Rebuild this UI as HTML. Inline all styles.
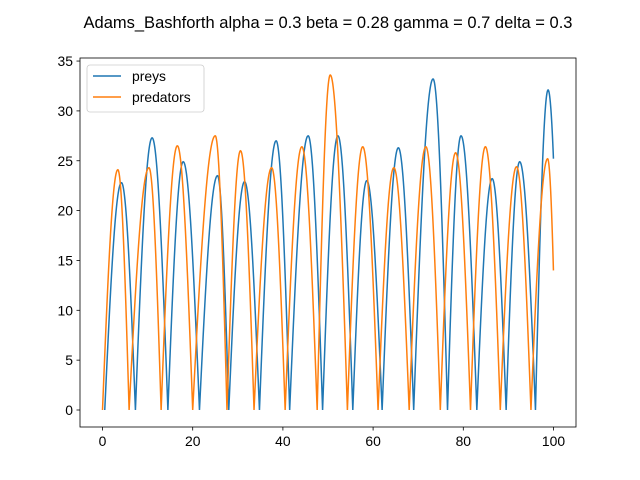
<!DOCTYPE html>
<html><head><meta charset="utf-8"><style>
body{margin:0;background:#fff;}
svg{display:block;font-family:"Liberation Sans","DejaVu Sans",sans-serif;}
</style></head><body>
<svg id="c" width="640" height="480">
<text x="328" y="28" text-anchor="middle" font-size="16.5">Adams_Bashforth alpha = 0.3 beta = 0.28 gamma = 0.7 delta = 0.3</text>
<defs><clipPath id="clip"><rect x="80" y="58" width="496" height="369"/></clipPath></defs>
<g id="series" clip-path="url(#clip)"></g>
<g id="axes"></g>
<rect x="80" y="58" width="496" height="369" fill="none" stroke="#000" stroke-width="0.8"/>
<g>
<rect x="87" y="65" width="117" height="47" rx="3" fill="#fff" fill-opacity="0.8" stroke="#ccc" stroke-width="0.8"/>
<line x1="93" y1="76" x2="121" y2="76" stroke="#1f77b4" stroke-width="1.5"/>
<text x="132" y="81" font-size="13.9">preys</text>
<line x1="93" y1="97" x2="121" y2="97" stroke="#ff7f0e" stroke-width="1.5"/>
<text x="132" y="102" font-size="13.9">predators</text>
</g>
</svg>
<script>
const xTicks=[0,20,40,60,80,100];
const yTicks=[0,5,10,15,20,25,30,35];
const preyZeros=[0.5,7.3,14.5,21.5,28,34.8,41.5,48.8,55.5,62,69,76.5,83,89.5,96,101.6];
const preyPeakT=[4.2,11,17.9,25.5,31.5,38.5,45.6,52.2,58.6,65.6,73.3,79.5,86.4,92.5,98.8];
const preyPeakV=[22.8,27.3,24.9,23.5,22.9,27,27.5,27.5,23,26.3,33.2,27.5,23.2,24.9,32.1];
const predZeros=[0,5.9,13,20,27.6,33.6,40.5,47.6,54.3,61.1,68,74.9,81.6,88.2,95,100.76];
const predPeakT=[3.4,10.3,16.6,25,30.6,37.5,44.2,50.5,57.7,64.6,71.7,78.3,84.9,91.8,98.7];
const predPeakV=[24.1,24.3,26.5,27.5,26,24.3,26.4,33.6,26.4,24.3,26.4,25.8,26.4,24.4,25.2];
const NS='http://www.w3.org/2000/svg';
const X=v=>102.5+v*4.51, Y=v=>410-v*9.97;
const ax=document.getElementById('axes');
xTicks.forEach(t=>{
 const l=document.createElementNS(NS,'line');
 l.setAttribute('x1',X(t));l.setAttribute('x2',X(t));l.setAttribute('y1',427);l.setAttribute('y2',430.5);l.setAttribute('stroke','#000');l.setAttribute('stroke-width','0.8');
 
 
 ax.appendChild(l);
 const tx=document.createElementNS(NS,'text');
 tx.setAttribute('x',X(t));tx.setAttribute('y',446);tx.setAttribute('text-anchor','middle');tx.setAttribute('font-size','13.9');tx.textContent=t;
 
 
 ax.appendChild(tx);
});
yTicks.forEach(t=>{
 const l=document.createElementNS(NS,'line');
 l.setAttribute('x1',76.5);l.setAttribute('x2',80);l.setAttribute('y1',Y(t));l.setAttribute('y2',Y(t));l.setAttribute('stroke','#000');l.setAttribute('stroke-width','0.8');
 
 
 ax.appendChild(l);
 const tx=document.createElementNS(NS,'text');
 tx.setAttribute('x',73);tx.setAttribute('y',Y(t)+5);tx.setAttribute('text-anchor','end');tx.setAttribute('font-size','13.9');tx.textContent=t;
 
 
 ax.appendChild(tx);
});
function path(zeros,pt,pv){
 let d='';
 for(let i=0;i<pt.length;i++){
  const z0=zeros[i],z1=zeros[i+1],p=pt[i],P=pv[i];
  for(let k=0;k<=40;k++){
   const t=z0+(p-z0)*k/40; const y=P*Math.sin(Math.PI/2*(t-z0)/(p-z0));
   d+=(d?'L':'M')+X(Math.max(t,0)).toFixed(2)+' '+Y(y).toFixed(2);
  }
  for(let k=1;k<=40;k++){
   const t=p+(z1-p)*k/40; if(t>100)break; const y=P*Math.sin(Math.PI/2*(z1-t)/(z1-p));
   d+='L'+X(t).toFixed(2)+' '+Y(y).toFixed(2);
  }
 }
 return d;
}
const g=document.getElementById('series');
const a=document.createElementNS(NS,'path');
a.setAttribute('d',path(preyZeros,preyPeakT,preyPeakV));a.setAttribute('fill','none');a.setAttribute('stroke','#1f77b4');a.setAttribute('stroke-width','1.5');


g.appendChild(a);
const b=document.createElementNS(NS,'path');
b.setAttribute('d',path(predZeros,predPeakT,predPeakV));b.setAttribute('fill','none');b.setAttribute('stroke','#ff7f0e');b.setAttribute('stroke-width','1.5');


g.appendChild(b);
</script>
</body></html>
